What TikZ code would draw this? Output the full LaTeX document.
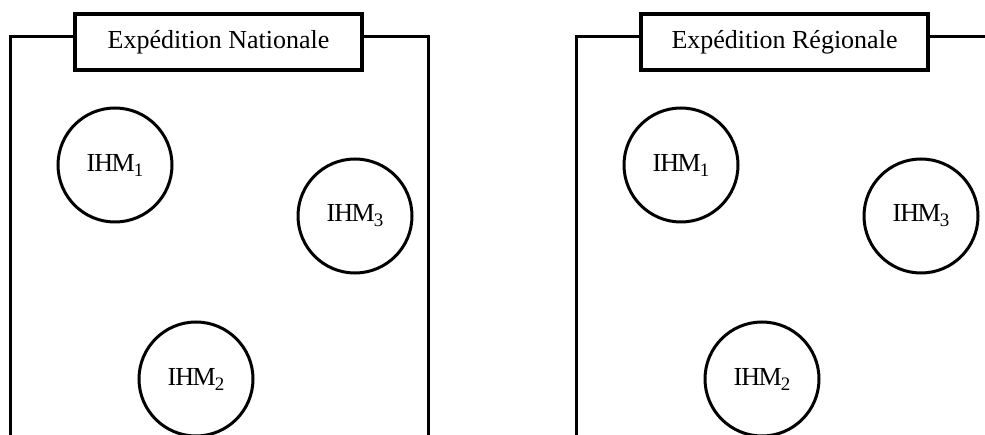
\documentclass[tikz,border=0pt]{standalone}
\usepackage{fontspec}
\setmainfont{Liberation Serif}
\newcommand{\ihmsub}[1]{\kern-1pt\raisebox{-5pt}{\fontsize{19}{22}\selectfont #1}}
\begin{document}
\begin{tikzpicture}[x=1pt, y=-1pt,
  frame/.style={line width=3pt},
  titlebox/.style={draw, line width=3.5pt, fill=white, minimum width=287pt,
                   minimum height=56pt, inner sep=0pt,
                   font=\fontsize{26}{30}\selectfont},
  ihm/.style={draw, circle, line width=3pt, minimum size=114pt, inner sep=0pt,
              font=\fontsize{26}{30}\selectfont},
]
  \useasboundingbox (0,0) rectangle (985,435);
  \clip (0,0) rectangle (985,435);

  \foreach \dx/\n/\t in {0/nat/Nationale, 566/reg/Régionale} {
    \begin{scope}[xshift=\dx pt]
      \node[titlebox] (box\n) at (218.5,42) {Expédition \t};
      \draw[frame] (box\n.west |- 0,37) -- (10,37) -- (10,440);
      \draw[frame] (box\n.east |- 0,37) -- (428,37) -- (428,440);

      \node[ihm] (ihmA\n) at (115,165) {I\kern-1ptH\kern-1.5ptM\ihmsub{1}};
      \node[ihm] (ihmB\n) at (196,379) {I\kern-1ptH\kern-1.5ptM\ihmsub{2}};
      \node[ihm] (ihmC\n) at (355,216) {I\kern-1ptH\kern-1.5ptM\ihmsub{3}};
    \end{scope}
  }
\end{tikzpicture}
\end{document}
